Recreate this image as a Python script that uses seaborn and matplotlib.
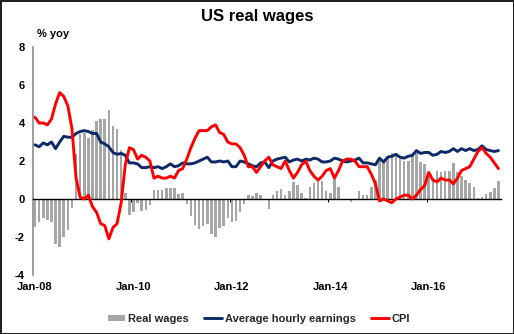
import numpy as np
import pandas as pd
import matplotlib
matplotlib.use("Agg")
import matplotlib.pyplot as plt
from matplotlib.patches import Patch
from matplotlib.lines import Line2D
import matplotlib.transforms as mtransforms
import seaborn as sns

# Monthly observations, Jan-08 .. Jun-17 (% yoy)
months = pd.date_range("2008-01-01", "2017-06-01", freq="MS")

real_wages = [
    -1.45, -1.2, -1.0, -1.1, -1.2, -2.35, -2.55, -2.0, -1.65, -0.45, 2.35, 3.4,
    3.45, 3.2, 3.65, 4.1, 4.2, 4.2, 4.7, 3.85, 3.7, 2.6, 0.3, -0.85,
    -0.7, -0.2, -0.65, -0.6, -0.3, 0.5, 0.5, 0.5, 0.6, 0.6, 0.6, 0.25,
    0.3, -0.25, -0.88, -1.35, -1.56, -1.44, -1.3, -1.84, -2.0, -1.5, -1.44, -1.0,
    -1.2, -1.17, -0.68, -0.26, 0.2, 0.15, 0.3, 0.2, -0.05, -0.55, 0.2, 0.44,
    0.52, 0.23, 0.44, 0.91, 0.74, 0.3, 0.05, 0.61, 0.82, 0.96, 0.93, 0.44,
    0.3, 1.05, 0.61, -0.03, -0.05, -0.15, -0.05, 0.44, 0.2, 0.2, 0.61, 1.0,
    2.05, 2.05, 2.2, 2.4, 2.3, 2.1, 2.0, 2.0, 2.3, 2.45, 1.95, 1.84,
    1.3, 1.05, 1.48, 1.43, 1.45, 1.48, 1.88, 1.42, 1.2, 0.98, 0.82, 0.63,
    0.07, 0.13, 0.25, 0.37, 0.56, 0.94,
]

avg_hourly_earnings = [
    2.85, 2.75, 2.95, 2.85, 3.0, 2.65, 3.0, 3.3, 3.25, 3.25, 3.45, 3.55,
    3.6, 3.55, 3.45, 3.45, 3.0, 2.9, 2.75, 2.45, 2.35, 2.4, 2.3, 1.9,
    1.9, 1.85, 1.65, 1.65, 1.7, 1.65, 1.7, 1.6, 1.7, 1.85, 1.7, 1.75,
    1.9, 1.85, 1.85, 1.9, 2.0, 2.1, 2.2, 1.95, 1.95, 2.0, 1.95, 2.0,
    1.7, 1.7, 2.0, 1.95, 1.85, 1.75, 1.7, 1.9, 1.95, 1.65, 2.0, 2.1,
    2.15, 2.2, 1.95, 2.05, 2.1, 2.0, 2.1, 2.05, 2.15, 2.1, 1.95, 1.95,
    2.0, 2.15, 2.1, 2.0, 1.95, 2.0, 2.05, 2.15, 1.9, 1.9, 1.85, 1.8,
    2.15, 1.95, 2.2, 2.25, 2.35, 2.2, 2.15, 2.25, 2.3, 2.55, 2.4, 2.45,
    2.45, 2.3, 2.35, 2.5, 2.45, 2.5, 2.65, 2.5, 2.65, 2.55, 2.65, 2.55,
    2.6, 2.8, 2.6, 2.55, 2.5, 2.55,
]

cpi = [
    4.3, 4.0, 4.0, 3.9, 4.2, 5.0, 5.6, 5.4, 4.9, 3.7, 1.1, 0.1,
    0.0, 0.2, -0.4, -0.7, -1.3, -1.4, -2.1, -1.5, -1.3, -0.2, 1.8, 2.7,
    2.6, 2.1, 2.3, 2.2, 2.0, 1.1, 1.2, 1.1, 1.1, 1.2, 1.1, 1.5,
    1.6, 2.1, 2.7, 3.2, 3.6, 3.6, 3.6, 3.8, 3.9, 3.5, 3.4, 3.0,
    2.9, 2.9, 2.7, 2.3, 1.7, 1.7, 1.4, 1.7, 2.0, 2.2, 1.8, 1.7,
    1.6, 2.0, 1.5, 1.1, 1.4, 1.8, 2.0, 1.5, 1.2, 1.0, 1.2, 1.5,
    1.6, 1.1, 1.5, 2.0, 2.1, 2.1, 2.0, 1.7, 1.7, 1.7, 1.3, 0.8,
    -0.1, 0.0, -0.1, -0.2, 0.0, 0.1, 0.2, 0.2, 0.0, 0.2, 0.5, 0.7,
    1.4, 1.0, 0.9, 1.1, 1.0, 1.0, 0.8, 1.1, 1.5, 1.6, 1.7, 2.1,
    2.5, 2.7, 2.4, 2.2, 1.9, 1.6,
]

tick_labels = ["Jan-08", "Jan-10", "Jan-12", "Jan-14", "Jan-16"]
y_ticks = [-4, -2, 0, 2, 4, 6, 8]

df = pd.DataFrame({
    "pos": np.arange(len(months)),
    "label": months.strftime("%b-%y"),
    "real": real_wages,
    "ahe": avg_hourly_earnings,
    "cpi": cpi,
})

GREY = "#A6A6A6"
NAVY = "#0C2A6A"
RED = "#FF0000"

sns.set_theme(style="white")
plt.rcParams["font.family"] = ["Liberation Sans", "DejaVu Sans"]
plt.rcParams["font.weight"] = "bold"

fig = plt.figure(figsize=(5.14, 3.34), dpi=100, edgecolor="#222222", linewidth=2)
ax = fig.add_axes([33 / 514, 1 - 275 / 334, 467.5 / 514, 228 / 334])

sns.barplot(data=df, x="pos", y="real", color=GREY, saturation=1, width=0.62,
            errorbar=None, linewidth=0, ax=ax, zorder=1)
sns.lineplot(data=df, x="pos", y="ahe", color=NAVY, lw=2.1, ax=ax, zorder=3)
sns.lineplot(data=df, x="pos", y="cpi", color=RED, lw=2.1, ax=ax, zorder=4)

n = len(df)
ax.set_xlim(-0.5, n - 0.5)
ax.set_ylim(-4, 8)
ax.set_xlabel("")
ax.set_ylabel("")

# y axis
ax.set_yticks(y_ticks)
ax.set_yticklabels([str(v) for v in y_ticks], fontsize=8, fontweight="bold", color="black")
ax.tick_params(axis="y", length=0, pad=6)

# x axis sits on zero; tick marks between years, labels at the bottom
for s in ["top", "right"]:
    ax.spines[s].set_visible(False)
ax.spines["left"].set_color("#8C8C8C")
ax.spines["left"].set_linewidth(1.2)
ax.spines["bottom"].set_position(("data", 0))
ax.spines["bottom"].set_color("black")
ax.spines["bottom"].set_linewidth(1.0)
ax.spines["bottom"].set_zorder(2.5)

label_pos = df.index[df["label"].isin(tick_labels)].tolist()
ax.set_xticks([p - 0.5 for p in label_pos if p > 0])
ax.set_xticklabels([])
ax.tick_params(axis="x", direction="out", length=2.5, width=0.8, color="black", bottom=True)

trans = mtransforms.blended_transform_factory(ax.transData, ax.transAxes)
for p in label_pos:
    ax.text(p, -0.053, df.loc[p, "label"], transform=trans, ha="center", va="center",
            fontsize=8, fontweight="bold", color="black")

fig.text(0.5, 1 - 16 / 334, "US real wages", ha="center", va="center",
         fontsize=12, fontweight="bold", color="black")
fig.text(37 / 514, 1 - 34 / 334, "% yoy", ha="left", va="center",
         fontsize=8, fontweight="bold", color="black")

handles = [
    Patch(facecolor=GREY, edgecolor="none"),
    Line2D([], [], color=NAVY, lw=2.1),
    Line2D([], [], color=RED, lw=2.1),
]
fig.legend(handles, ["Real wages", "Average hourly earnings", "CPI"],
           loc="center", bbox_to_anchor=(259 / 514, 1 - 319 / 334), ncol=3,
           frameon=False, fontsize=8, handlelength=1.6, handleheight=0.5,
           handletextpad=0.25, columnspacing=1.4, borderaxespad=0)

fig.savefig("out.png", dpi=100)
